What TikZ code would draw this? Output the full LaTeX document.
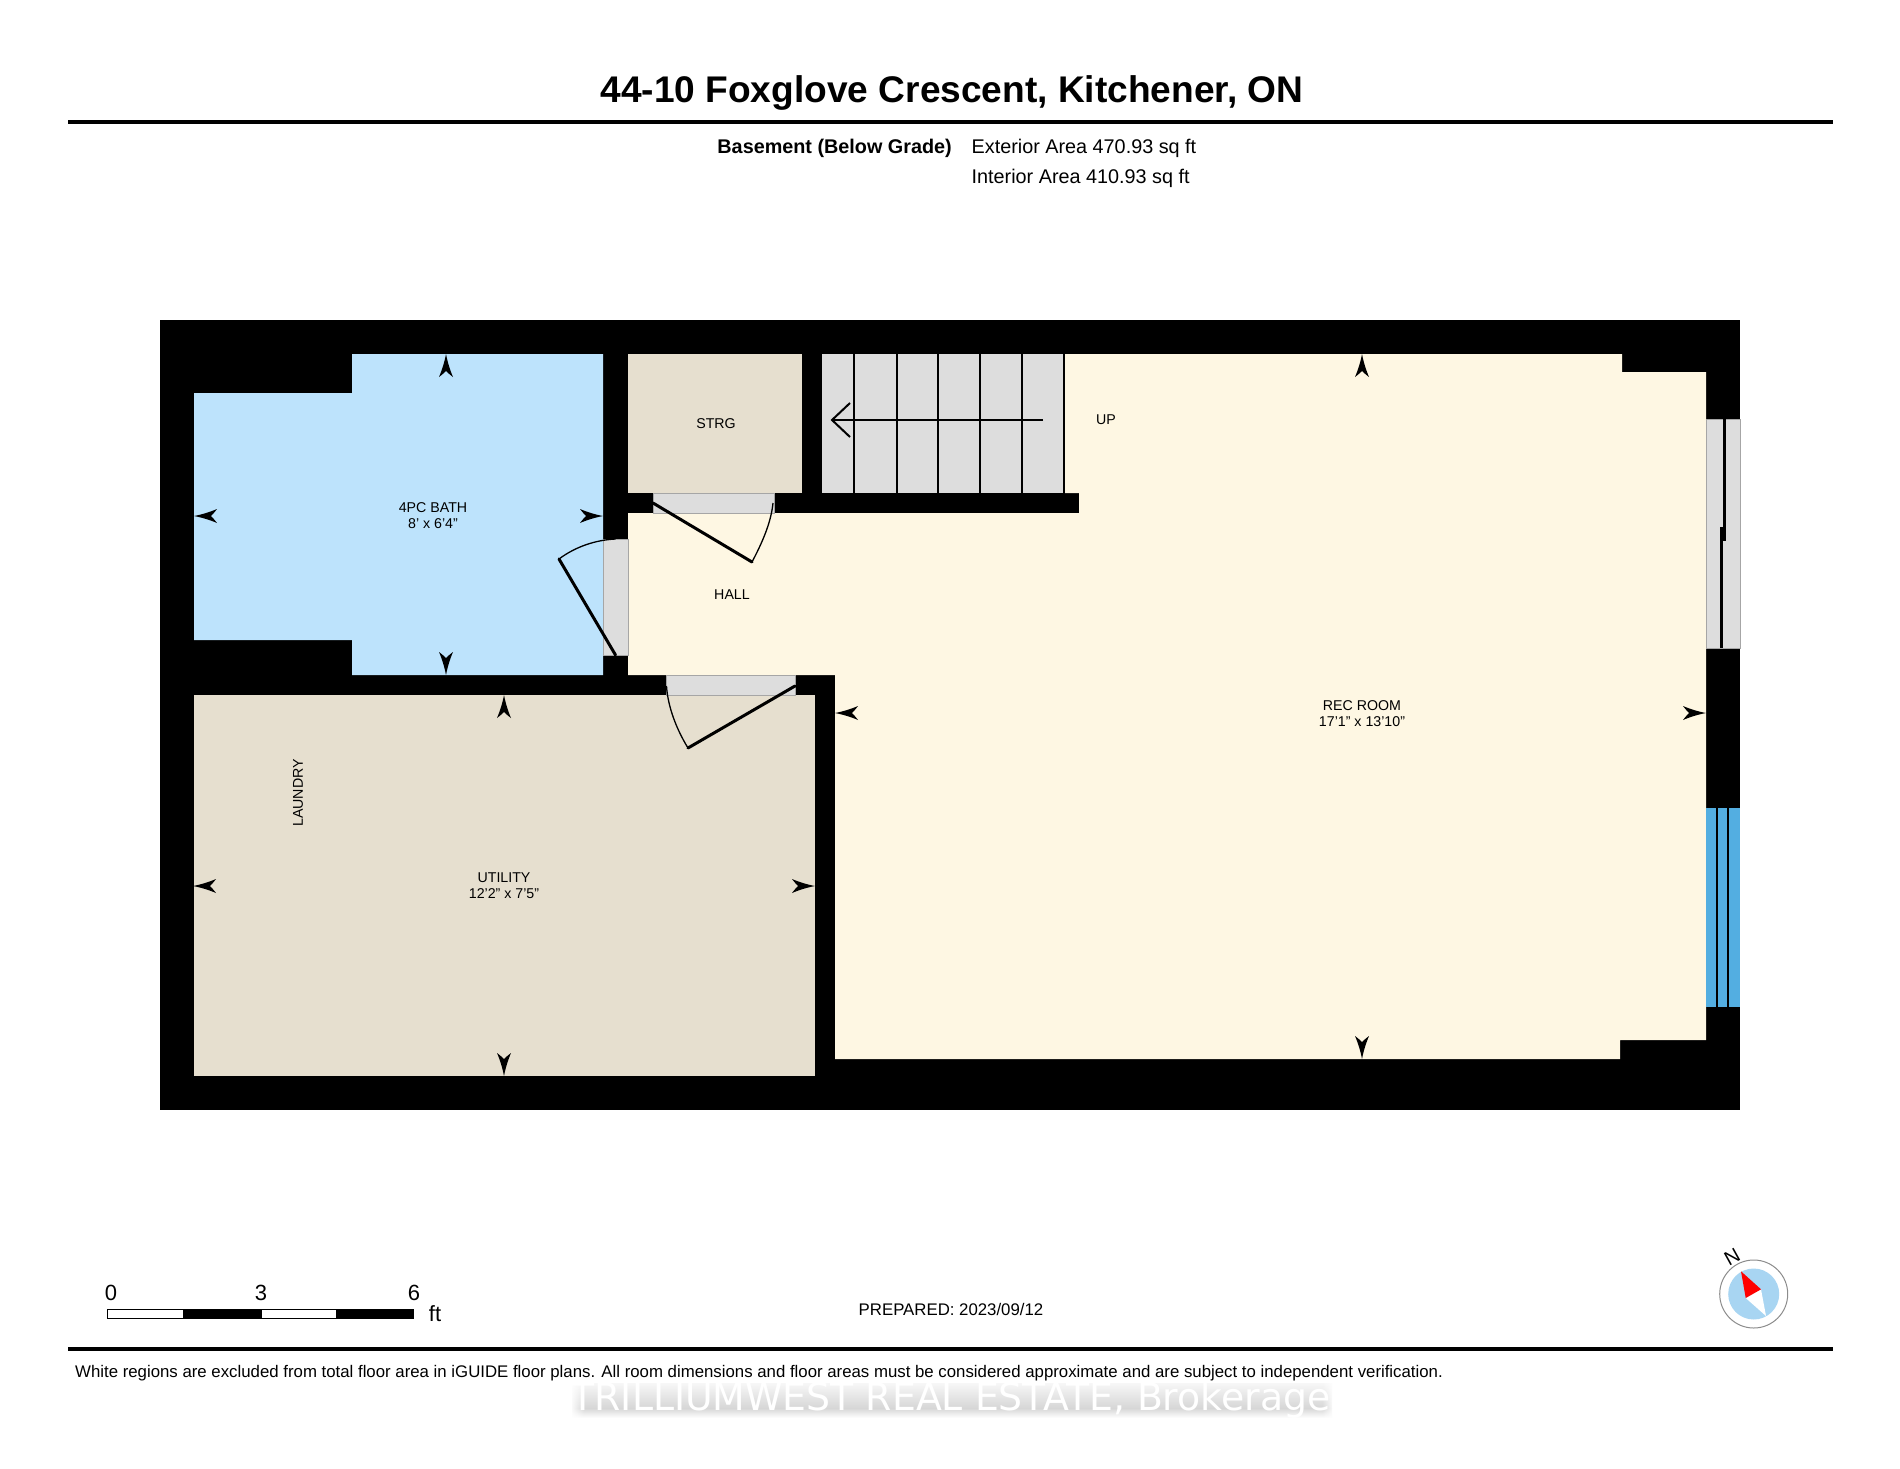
\documentclass[tikz,border=0pt]{standalone}
\usepackage{fontspec}
\setmainfont{Liberation Sans}
\newfontfamily\wmfont{DejaVu Sans}
\usetikzlibrary{fadings}
\definecolor{bathc}{HTML}{BDE3FC}
\definecolor{utilc}{HTML}{E6DFCF}
\definecolor{creamc}{HTML}{FEF7E3}
\definecolor{openc}{HTML}{DDDDDD}
\definecolor{glassc}{HTML}{53AEE1}
\definecolor{compassc}{HTML}{A8D5F2}
\tikzset{
  x=1pt,y=-1pt,
  roomlabel/.style={inner sep=0pt,align=center,font=\fontsize{14.2}{16}\selectfont},
  headtext/.style={inner sep=0pt,font=\fontsize{19.8}{22}\selectfont},
  smalltext/.style={inner sep=0pt,font=\fontsize{16.8}{20}\selectfont},
  scaletext/.style={inner sep=0pt,font=\fontsize{22}{24}\selectfont},
  leaf/.style={draw=black,line width=3pt,line cap=round},
  swing/.style={draw=black,line width=1.3pt},
  rulebar/.style={draw=black,line width=3.2pt},
  tread/.style={draw=black,line width=2pt},
  openedge/.style={fill=openc,draw=black!35,line width=0.6pt},
}
\newcommand{\wallmark}[3]{\fill[black,shift={(#1,#2)},rotate=#3] (0,0) .. controls (-8,-1.5) and (-16,-4) .. (-23,-7) .. controls (-20,-3) and (-18,-1) .. (-17,0) .. controls (-18,1) and (-20,3) .. (-23,7) .. controls (-16,4) and (-8,1.5) .. (0,0) -- cycle;}
\begin{document}
\begin{tikzpicture}
\useasboundingbox (0,0) rectangle (1900,1468);
\fill[white] (0,0) rectangle (1900,1468);
% title block
\node[inner sep=0pt,font=\fontsize{37.1}{40}\bfseries\selectfont] (title) at (952,93) {44-10 Foxglove Crescent, Kitchener, ON};
\coordinate (ruleAL) at (68,122); \coordinate (ruleAR) at (1833,122);
\draw[rulebar] (ruleAL) -- (ruleAR);
\node[headtext,anchor=east,font=\fontsize{19.8}{22}\bfseries\selectfont] (floorname) at (952,148.5) {Basement (Below Grade)};
\node[headtext,anchor=west] (extarea) at (971.5,148.5) {Exterior Area 470.93 sq ft};
\node[headtext,anchor=west] (intarea) at (971.5,178.5) {Interior Area 410.93 sq ft};
% building
\fill[black] (160,320) rectangle (1740,1110);
% rooms
\fill[bathc] (194,393) -- (352,393) -- (352,354) -- (603,354) -- (603,675) -- (352,675) -- (352,640) -- (194,640) -- cycle;
\fill[utilc] (628,354) rectangle (802,493);
\fill[utilc] (194,695) rectangle (815,1076);
\fill[creamc] (628,513) -- (1079,513) -- (1079,493) -- (1065,493) -- (1065,354) -- (1622,354) -- (1622,372) -- (1706,372) -- (1706,1040) -- (1620,1040) -- (1620,1059) -- (835,1059) -- (835,675) -- (628,675) -- cycle;
% stairs
\fill[openc] (822,354) rectangle (1063,493);
\foreach \tx in {854,897,938,980,1022,1064}{\draw[tread] (\tx,354) -- (\tx,493);}
\coordinate (stairEnd) at (1043,420); \coordinate (stairTip) at (832,420);
\draw[tread] (stairEnd) -- (stairTip);
\draw[tread] (850,403) -- (stairTip) -- (850,437);
% door openings
\path[openedge] (653,493) rectangle (774,513);
\path[openedge] (603,539) rectangle (628,655);
\path[openedge] (666,675) rectangle (795,695);
% doors
\draw[leaf] (653,503) -- (752,562);
\draw[swing] (752,562) .. controls (762,543) and (771,523) .. (773,503);
\draw[leaf] (615.5,655) -- (559,559);
\draw[swing] (559,559) .. controls (575,547) and (595,540) .. (615.5,539);
\draw[leaf] (795,686) -- (688,748);
\draw[swing] (688,748) .. controls (677,730) and (668,708) .. (666.5,686);
% door on the right wall
\path[openedge] (1706,419) rectangle (1740,648);
\fill[black] (1723.4,419) rectangle (1726.4,541);
\fill[black] (1720,527) rectangle (1723,648);
% window
\fill[glassc] (1706,808) rectangle (1740,1007);
\fill[black] (1716,808) rectangle (1718,1007);
\fill[black] (1727,808) rectangle (1729,1007);
% wall marks
\wallmark{446}{354}{90}\wallmark{446}{675}{-90}\wallmark{194}{516}{180}\wallmark{603}{516}{0}
\wallmark{504}{695}{90}\wallmark{504}{1076}{-90}\wallmark{193}{886}{180}\wallmark{815}{886}{0}
\wallmark{1362}{354}{90}\wallmark{1362}{1059}{-90}\wallmark{835}{713}{180}\wallmark{1706}{713}{0}
% room labels
\node[roomlabel] (bath) at (433,516) {4PC BATH\\8' x 6'4"};
\node[roomlabel] (strg) at (716,423.5) {STRG};
\node[roomlabel] (up) at (1106,420) {UP};
\node[roomlabel] (hall) at (732,594.5) {HALL};
\node[roomlabel] (rec) at (1362,714) {REC ROOM\\17'1" x 13'10"};
\node[roomlabel] (util) at (504,886) {UTILITY\\12'2" x 7'5"};
\node[roomlabel,rotate=90] (laundry) at (298,793) {LAUNDRY};
% scale bar
\draw[black,fill=white,line width=1pt] (107,1309.5) rectangle (183,1318.5);
\fill[black] (183,1309) rectangle (261,1319);
\draw[black,fill=white,line width=1pt] (261,1309.5) rectangle (336,1318.5);
\fill[black] (336,1309) rectangle (414,1319);
\node[scaletext] (s0) at (111,1293) {0};
\node[scaletext] (s3) at (261,1293) {3};
\node[scaletext] (s6) at (414,1293) {6};
\node[scaletext] (sft) at (435,1314) {ft};
\node[smalltext] (prep) at (951,1309.5) {PREPARED: 2023/09/12};
% compass
\fill[white,draw=black!45,line width=1pt] (1753.7,1294) circle (34);
\fill[compassc] (1753.7,1294) circle (25.5);
\fill[white] (1745.7,1298) -- (1761,1289.3) -- (1766,1316) -- cycle;
\fill[red] (1741,1271.3) -- (1761,1289.3) -- (1745.7,1298) -- cycle;
\node[inner sep=0pt,rotate=29,font=\fontsize{20}{22}\selectfont] (north) at (1732,1257) {N};
% footer
\coordinate (ruleBL) at (68,1349); \coordinate (ruleBR) at (1833,1349);
\draw[rulebar] (ruleBL) -- (ruleBR);
% watermark glow
\shade[top color=black!3,bottom color=black!16] (572,1383) rectangle (1332,1408);
\shade[top color=black!16,bottom color=white] (572,1408) rectangle (1332,1418);
\fill[white,path fading=east] (570,1381) rectangle (584,1420);
\fill[white,path fading=west] (1322,1381) rectangle (1334,1420);
\node[inner sep=0pt,text=white,font=\wmfont\fontsize{37.8}{40}\selectfont] (wm) at (951,1400) {TRILLIUMWEST REAL ESTATE, Brokerage};
\node[smalltext,anchor=west] (note) at (75,1373.5) {White regions are excluded from total floor area in iGUIDE floor plans. All room dimensions and floor areas must be considered approximate and are subject to independent verification.};
\end{tikzpicture}
\end{document}
